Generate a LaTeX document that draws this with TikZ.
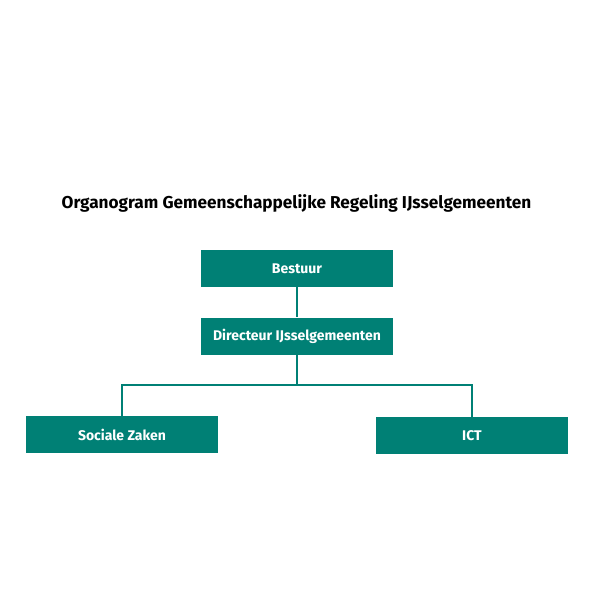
\documentclass[tikz,border=0pt]{standalone}
\usepackage{fontspec}
\setmainfont{Fira Sans}
\definecolor{teal}{RGB}{0,128,117}
\begin{document}
\begin{tikzpicture}[x=1pt,y=-1pt,
  box/.style={fill=teal,draw=none,minimum width=192pt,minimum height=37pt,inner sep=0pt,
    text=white,font=\bfseries\fontsize{14}{16}\selectfont},
  link/.style={draw=teal,line width=1.3pt}]
\useasboundingbox (0,0) rectangle (596,596);
\node[font=\bfseries\fontsize{17.2}{20}\selectfont] (title) at (296.5,203) {Organogram Gemeenschappelijke Regeling IJsselgemeenten};
\node[box] (bestuur) at (297,268.5) {Bestuur};
\node[box] (dir) at (297,336) {Directeur IJsselgemeenten};
\node[box] (soc) at (122,434.5) {Sociale Zaken};
\node[box] (ict) at (472,435.5) {ICT};
\coordinate (j) at (dir.south |- 0,385);
\draw[link] (bestuur.south) -- (dir.north);
\draw[link] (dir.south) -- (j);
\draw[link] (soc.north) |- (j) -| (ict.north);
\end{tikzpicture}
\end{document}
